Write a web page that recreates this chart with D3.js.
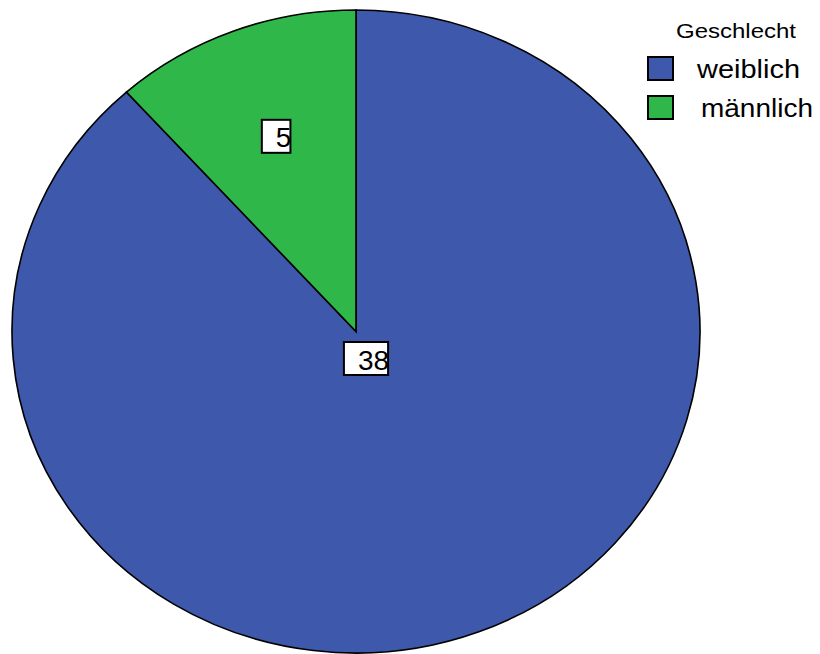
<!DOCTYPE html>
<html><head><meta charset="utf-8">
<script src="https://cdnjs.cloudflare.com/ajax/libs/d3/7.8.5/d3.min.js"></script>
<style>body{margin:0;background:#fff}svg{display:block}text{font-family:"Liberation Sans",Arial,sans-serif}</style>
</head><body><svg id="c" width="820" height="654"></svg>
<script>
const categories = ["weiblich", "männlich"];
const values = [38, 5];
const colors = ["#3e58ab", "#2fb74a"];
const legendTitle = "Geschlecht";

const svg = d3.select("#c");
const cx = 356, cy = 331.5, rx = 344, ry = 321.5, R = 100;

const pie = d3.pie().sort(null).value(d => d.v).startAngle(0).endAngle(2 * Math.PI);
const data = categories.map((c, i) => ({ c, v: values[i], col: colors[i] }));
const arcs = pie(data);
const arc = d3.arc().innerRadius(0).outerRadius(R);

const g = svg.append("g").attr("transform", `translate(${cx},${cy}) scale(${rx / R},${ry / R})`);
g.selectAll("path").data(arcs).enter().append("path")
  .attr("d", arc)
  .attr("fill", d => d.data.col)
  .attr("stroke", "#000")
  .attr("stroke-width", 1.6)
  .attr("vector-effect", "non-scaling-stroke");

// labels
const labelArc = d3.arc().innerRadius(R * 0.65).outerRadius(R * 0.65);
function labelPos(d, i) {
  if (i === 0) return [cx + 10, cy + 27];
  const [x, y] = labelArc.centroid(d);
  return [cx + x * rx / R, cy + y * ry / R];
}
const fs = 28;
arcs.forEach((d, i) => {
  const [x, y] = labelPos(d, i);
  const lg = svg.append("g");
  const t = lg.append("text").text(d.data.v).attr("font-size", fs);
  const w = t.node().getComputedTextLength();
  const bw = w + 13, bh = 33;
  lg.insert("rect", "text")
    .attr("x", x - bw / 2).attr("y", y - bh / 2)
    .attr("width", bw).attr("height", bh)
    .attr("fill", "#fff").attr("stroke", "#000").attr("stroke-width", 2);
  t.attr("x", x + bw / 2 + 1).attr("y", y + 11).attr("text-anchor", "end");
});

// legend
const leg = svg.append("g");
leg.append("text").attr("x", 676).attr("y", 38).attr("font-size", 21)
  .attr("textLength", 120).attr("lengthAdjust", "spacingAndGlyphs").text(legendTitle);
const legY = [57, 96];
const legTX = [697, 701];
const legTL = [103, 112];
data.forEach((d, i) => {
  leg.append("rect").attr("x", 648).attr("y", legY[i]).attr("width", 25).attr("height", 23)
    .attr("fill", d.col).attr("stroke", "#000").attr("stroke-width", 2);
  leg.append("text").attr("x", legTX[i]).attr("y", legY[i] + 21).attr("font-size", 26)
    .attr("textLength", legTL[i]).attr("lengthAdjust", "spacingAndGlyphs").text(d.c);
});
</script></body></html>
